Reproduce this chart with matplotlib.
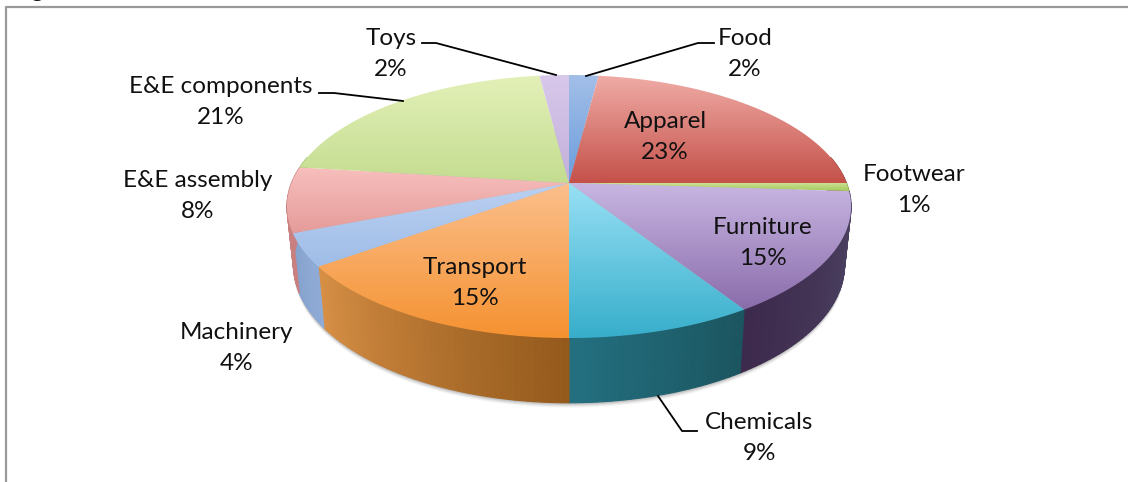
# Pizza em perspectiva desenhada a mao sobre um eixo em pixels
import numpy as np
import matplotlib
matplotlib.use("Agg")
import matplotlib.pyplot as plt
from matplotlib.collections import PolyCollection
from matplotlib.colors import LinearSegmentedColormap
from matplotlib.patches import Polygon

categorias = ["Food", "Apparel", "Footwear", "Furniture", "Chemicals",
              "Transport", "Machinery", "E&E assembly", "E&E components", "Toys"]
valores = [2, 23, 1, 15, 9, 15, 4, 8, 21, 2]

# cor clara (alto), cor saturada (baixo) e lateral (esquerda, direita)
topo_claro = ["#a3bfe8", "#f0aca6", "#cfe39a", "#c8b6e2", "#98e0f5",
              "#fbbf8c", "#bbd0f1", "#f7bfbd", "#e3f0b8", "#d8c8ea"]
topo_escuro = ["#6b9ddb", "#c4514a", "#a4c95c", "#8a6cab", "#37aecb",
               "#f59231", "#9fbde8", "#e59c9a", "#c4dd90", "#c3b0dc"]
lado_a = ["#5a7fb5", "#9c3e38", "#7e9a45", "#3d2a4d", "#236f80",
          "#d78f45", "#86a3cf", "#c88080", "#a6bd78", "#9f8fb5"]
lado_b = ["#5a7fb5", "#9c3e38", "#7e9a45", "#4f4766", "#1b5560",
          "#945a1c", "#8fabd6", "#c88080", "#a6bd78", "#9f8fb5"]

# geometria da pizza (pixels)
CX, CY = 569, 183
RX, RY, K = 277.5, 127.3, 0.1787
ESCALA_X, ESCALA_Y, DESLOCA = 0.977, 1.05, 57


def projetar(ang):
    # ang em graus no sentido horario a partir do topo
    u = np.sin(np.radians(ang))
    v = np.cos(np.radians(ang))
    w = 1 + K * v
    return RX * u / w, -RY * v / w


def borda_cima(ang):
    x, y = projetar(ang)
    return CX + x, CY + y


def borda_baixo(ang):
    x, y = projetar(ang)
    return CX + ESCALA_X * x, CY + ESCALA_Y * y + DESLOCA


fig = plt.figure(figsize=(11.28, 4.82), dpi=100)
ax = fig.add_axes([0, 0, 1, 1])
ax.set_xlim(0, 1128)
ax.set_ylim(482, 0)
ax.axis("off")

plt.rcParams["font.family"] = ["Lato", "DejaVu Sans"]

# titulo cortado no alto da imagem, so aparece o pe das letras
ax.text(12, -3, "Figure", fontsize=17, fontweight="bold", color="#111111",
        ha="left", va="baseline", clip_on=True)

# moldura
ax.plot([6, 6, 1128], [482, 7, 7], color="#9a9a9a", lw=1.6, zorder=1)

# sombra embaixo da pizza
angulos = np.linspace(0, 360, 361)
bx, by = borda_baixo(angulos)
for extra, alfa in zip([5, 4, 3, 2, 1], [0.05, 0.07, 0.1, 0.13, 0.16]):
    ax.add_patch(Polygon(np.column_stack([bx, by + extra]), closed=True,
                         fc="#555555", ec="none", alpha=alfa, zorder=2))

limites = np.cumsum([0] + valores) * 3.6

# lateral em faixas verticais
faixas = []
cores = []
for i in range(len(valores)):
    passos = max(2, int((limites[i + 1] - limites[i]) / 1.2) + 1)
    angs = np.linspace(limites[i], limites[i + 1], passos)
    c1 = np.array(matplotlib.colors.to_rgb(lado_a[i]))
    c2 = np.array(matplotlib.colors.to_rgb(lado_b[i]))
    for j in range(passos - 1):
        a0, a1 = angs[j], angs[j + 1]
        if np.cos(np.radians((a0 + a1) / 2)) > 0.2:
            continue
        x0, y0 = borda_cima(a0)
        x1, y1 = borda_cima(a1)
        x2, y2 = borda_baixo(a1)
        x3, y3 = borda_baixo(a0)
        faixas.append([(x0, y0), (x1, y1), (x2, y2), (x3, y3)])
        t = j / max(1, passos - 2)
        # inverte porque o angulo cresce da direita para a esquerda na frente
        cor = c2 + (c1 - c2) * t
        cores.append(np.clip(cor, 0, 1))
ax.add_collection(PolyCollection(faixas, facecolors=cores, edgecolors=cores,
                                 linewidths=0.8, zorder=3))

# tampa com gradiente vertical em cada fatia
for i in range(len(valores)):
    angs = np.linspace(limites[i], limites[i + 1], 60)
    xs, ys = borda_cima(angs)
    xs = np.concatenate([[CX], xs])
    ys = np.concatenate([[CY], ys])
    mapa = LinearSegmentedColormap.from_list("f%d" % i, [topo_claro[i], topo_escuro[i]])
    gradiente = np.linspace(0, 1, 128).reshape(-1, 1)
    img = ax.imshow(gradiente, cmap=mapa, aspect="auto", zorder=4,
                    extent=(xs.min(), xs.max(), ys.max(), ys.min()))
    fatia = Polygon(np.column_stack([xs, ys]), closed=True, transform=ax.transData,
                    fc="none", ec="none")
    ax.add_patch(fatia)
    img.set_clip_path(fatia)

ax.set_xlim(0, 1128)
ax.set_ylim(482, 0)

# rotulos
pos_rotulos = [(745, 54), (665, 137), (914, 190), (763, 243), (759, 438),
               (475, 283), (237, 348), (198, 196), (221, 102), (391, 54)]
for nome, valor, (px, py) in zip(categorias, valores, pos_rotulos):
    ax.text(px, py, "%s\n%d%%" % (nome, valor), fontsize=17.5, color="#111111",
            ha="center", va="center", linespacing=1.6, zorder=6)

# linhas de chamada
linhas = [
    ([422, 436, 556], [43, 43, 75]),
    ([714, 698, 586], [43, 43, 76]),
    ([319, 334, 403], [93, 93, 101]),
    ([697, 682, 658], [431, 431, 396]),
]
for lx, ly in linhas:
    ax.plot(lx, ly, color="black", lw=1.3, zorder=5)

fig.savefig("out.png", dpi=100)
